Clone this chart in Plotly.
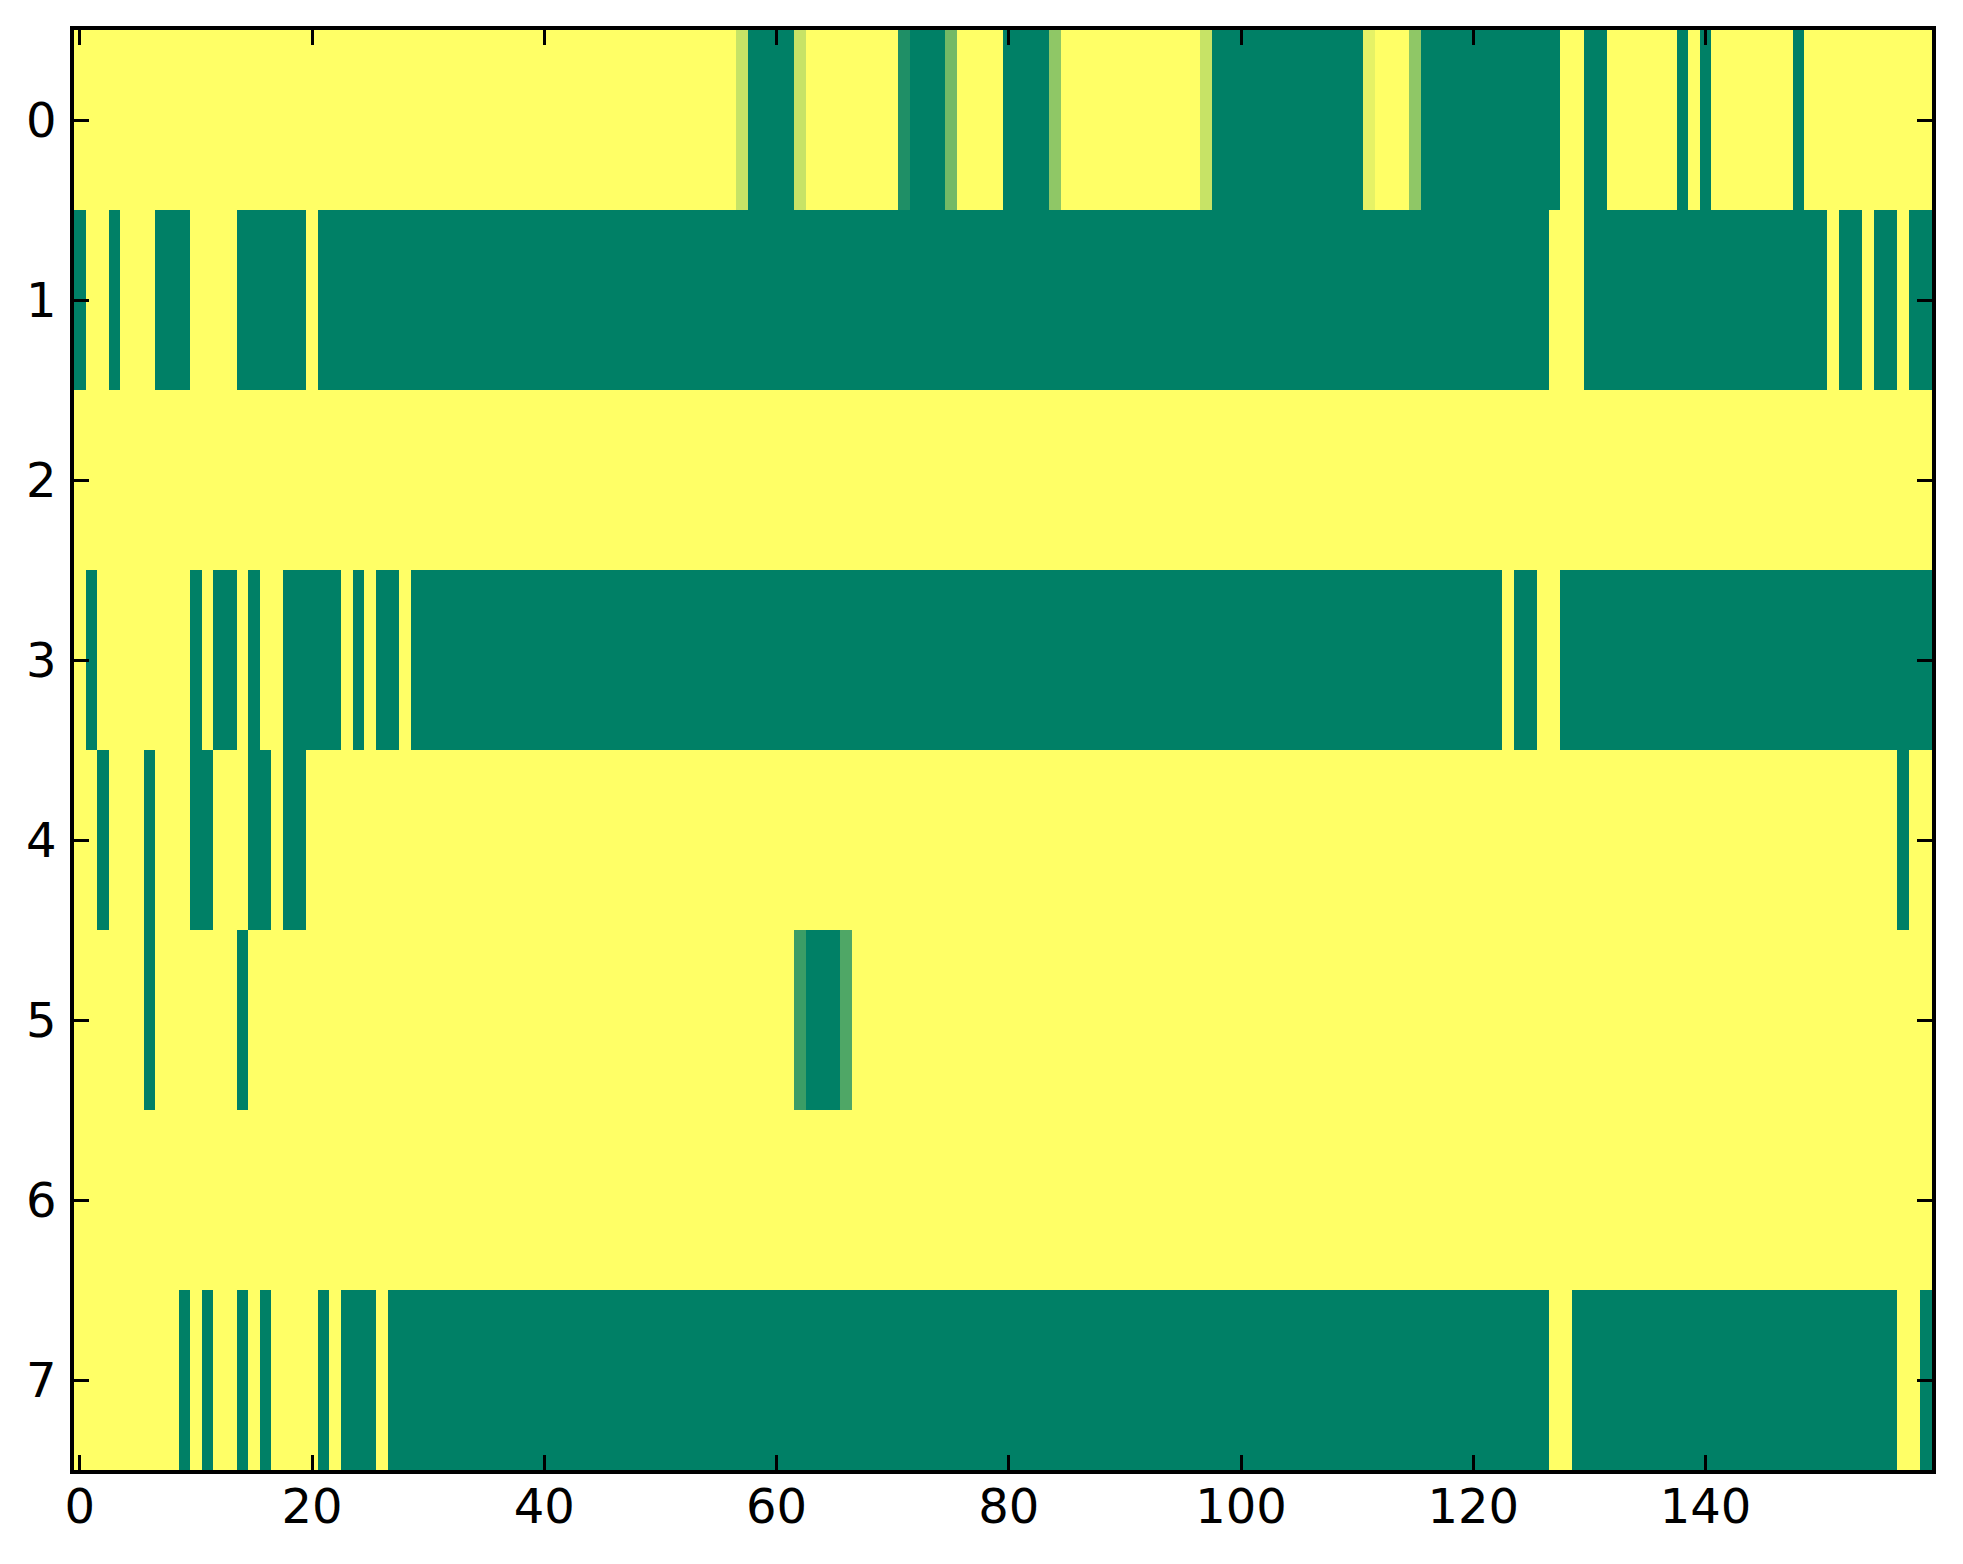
import plotly.graph_objects as go

# Run-length encoded rows: (value, count) pairs, columns 0..159
row0_runs = [(0, 57), (0.22, 1), (1, 4), (0.22, 1), (0, 8), (0.88, 1), (1, 3), (0.55, 1),
             (0, 4), (1, 4), (0.44, 1), (0, 12), (0.22, 1), (1, 13), (0.1, 1), (0, 3),
             (0.44, 1), (1, 12), (0, 2), (1, 2), (0, 6), (1, 1), (0, 1), (1, 1), (0, 7),
             (1, 1), (0, 11)]
row1_runs = [(1, 1), (0, 2), (1, 1), (0, 3), (1, 3), (0, 4), (1, 6), (0, 1), (1, 106),
             (0, 3), (1, 21), (0, 1), (1, 2), (0, 1), (1, 2), (0, 1), (1, 2)]
row2_runs = [(0, 160)]
row3_runs = [(0, 1), (1, 1), (0, 8), (1, 1), (0, 1), (1, 2), (0, 1), (1, 1), (0, 2), (1, 5),
             (0, 1), (1, 1), (0, 1), (1, 2), (0, 1), (1, 94), (0, 1), (1, 2), (0, 2), (1, 32)]
row4_runs = [(0, 2), (1, 1), (0, 3), (1, 1), (0, 3), (1, 2), (0, 3), (1, 2), (0, 1), (1, 2),
             (0, 137), (1, 1), (0, 2)]
row5_runs = [(0, 6), (1, 1), (0, 7), (1, 1), (0, 47), (0.77, 1), (1, 3), (0.69, 1), (0, 93)]
row6_runs = [(0, 160)]
row7_runs = [(0, 9), (1, 1), (0, 1), (1, 1), (0, 2), (1, 1), (0, 1), (1, 1), (0, 4), (1, 1),
             (0, 1), (1, 3), (0, 1), (1, 100), (0, 2), (1, 28), (0, 2), (1, 1)]

row_labels = [0, 1, 2, 3, 4, 5, 6, 7]
x_ticks = [0, 20, 40, 60, 80, 100, 120, 140]


def expand(runs):
    out = []
    for v, n in runs:
        out.extend([v] * n)
    return out


all_runs = [row0_runs, row1_runs, row2_runs, row3_runs,
            row4_runs, row5_runs, row6_runs, row7_runs]
z = [expand(r) for r in all_runs]
n_cols = len(z[0])

summer_r = [[0.0, "rgb(255,255,102)"], [1.0, "rgb(0,128,102)"]]

fig = go.Figure(
    go.Heatmap(
        z=z,
        x=list(range(n_cols)),
        y=row_labels,
        colorscale=summer_r,
        zmin=0,
        zmax=1,
        showscale=False,
        hoverinfo="skip",
    )
)

axis_common = dict(
    showline=True,
    linecolor="black",
    linewidth=3.5,
    mirror="ticks",
    ticks="inside",
    ticklen=15,
    tickwidth=3,
    tickcolor="black",
    showgrid=False,
    zeroline=False,
    tickfont=dict(family="DejaVu Sans", size=48, color="black"),
)

fig.update_xaxes(
    range=[-0.5, n_cols - 0.5],
    tickmode="array",
    tickvals=x_ticks,
    ticktext=[str(t) for t in x_ticks],
    ticklabelstandoff=-8,
    **axis_common,
)
fig.update_yaxes(
    range=[7.5, -0.5],
    tickmode="array",
    tickvals=row_labels,
    ticktext=[str(t) for t in row_labels],
    ticklabelstandoff=4,
    **axis_common,
)

fig.update_layout(
    width=1963,
    height=1564,
    margin=dict(l=66, r=39, t=22, b=102, pad=0),
    paper_bgcolor="white",
    plot_bgcolor="white",
    showlegend=False,
)

fig.write_html("out.html")
